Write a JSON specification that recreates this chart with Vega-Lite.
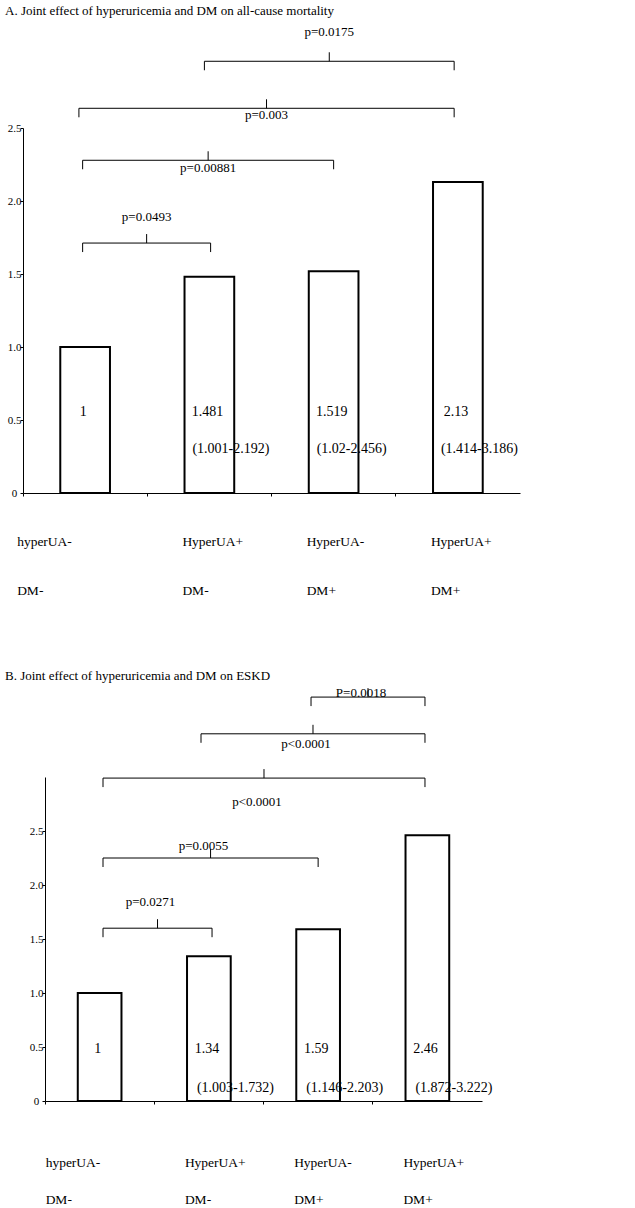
{
  "$schema": "https://vega.github.io/schema/vega-lite/v6.json",
  "background": "white",
  "padding": 5,
  "spacing": 72,
  "config": {
    "font": "Liberation Serif",
    "view": {"stroke": null},
    "axis": {"domainColor": "black", "tickColor": "black", "labelColor": "black", "grid": false, "title": null, "labelFont": "Liberation Serif"},
    "title": {"font": "Liberation Serif", "fontWeight": "normal", "color": "black"}
  },
  "vconcat": [
    {
      "title": {"text": "A. Joint effect of hyperuricemia and DM on all-cause mortality", "anchor": "start", "frame": "group", "dx": -18, "fontSize": 13, "offset": 8},
      "width": 497,
      "height": 365,
      "resolve": {"scale": {"x": "independent"}, "axis": {"x": "independent"}},
      "layer": [
        {
          "data": {"values": [
            {"group": "hyperUA- DM-", "hr": 1, "lo": null, "hi": null},
            {"group": "HyperUA+ DM-", "hr": 1.481, "lo": 1.001, "hi": 2.192},
            {"group": "HyperUA- DM+", "hr": 1.519, "lo": 1.02, "hi": 2.456},
            {"group": "HyperUA+ DM+", "hr": 2.13, "lo": 1.414, "hi": 3.186}
          ]},
          "layer": [
            {
              "mark": {"type": "bar", "width": {"band": 0.4}, "fill": "white", "stroke": null},
              "encoding": {
                "x": {"field": "group", "type": "nominal", "sort": null,
                  "scale": {"paddingInner": 0, "paddingOuter": 0},
                  "axis": {"bandPosition": 0, "tickSize": 3, "labelAngle": 0, "labelAlign": "left", "labelBaseline": "top", "labelPadding": 38, "labelLineHeight": 49, "labelFontSize": 13.5, "labelOverlap": false, "labelExpr": "split(datum.label, ' ')", "labelOffset": {"condition": {"test": "datum.index == 0", "value": -68}, "value": -27}}},
                "y": {"field": "hr", "type": "quantitative",
                  "scale": {"domain": [0, 2.5], "nice": false},
                  "axis": {"values": [0, 0.5, 1, 1.5, 2, 2.5], "labelExpr": "datum.value == 0 ? '0' : format(datum.value, '.1f')", "tickSize": 3, "labelAlign": "center", "labelPadding": 6, "labelFontSize": 11, "labelFlush": false}}
              }
            },
            {
              "mark": {"type": "text", "fontSize": 14, "align": "center", "baseline": "middle", "dx": -2, "color": "black"},
              "encoding": {
                "x": {"field": "group", "type": "nominal", "sort": null},
                "y": {"datum": 0.555},
                "text": {"field": "hr", "type": "quantitative"}
              }
            },
            {
              "transform": [{"filter": "datum.lo != null"}, {"calculate": "'(' + datum.lo + '-' + datum.hi + ')'", "as": "ci"}],
              "mark": {"type": "text", "fontSize": 14, "align": "left", "baseline": "middle", "dx": -17, "color": "black"},
              "encoding": {
                "x": {"field": "group", "type": "nominal", "sort": null},
                "y": {"datum": 0.3},
                "text": {"field": "ci", "type": "nominal"}
              }
            },
            {
              "mark": {"type": "bar", "width": {"band": 0.4}, "fill": null, "stroke": "black", "strokeWidth": 2},
              "encoding": {
                "x": {"field": "group", "type": "nominal", "sort": null},
                "y": {"field": "hr", "type": "quantitative"}
              }
            }
          ]
        },
        {
          "data": {"values": [
            {"p": "p=0.0175", "from": 1.96, "to": 3.97, "lvl": 2.957, "ly": 3.155},
            {"p": "p=0.003", "from": 0.95, "to": 3.97, "lvl": 2.635, "ly": 2.587},
            {"p": "p=0.00881", "from": 0.98, "to": 3.0, "lvl": 2.279, "ly": 2.224},
            {"p": "p=0.0493", "from": 0.98, "to": 2.01, "lvl": 1.712, "ly": 1.89}
          ]},
          "layer": [
            {
              "mark": {"type": "rule", "color": "black", "strokeWidth": 1},
              "encoding": {
                "x": {"field": "from", "type": "quantitative", "scale": {"domain": [0.5, 4.5], "nice": false, "zero": false}, "axis": null},
                "x2": {"field": "to"},
                "y": {"field": "lvl", "type": "quantitative"}
              }
            },
            {
              "transform": [{"fold": ["from", "to"], "as": ["end", "xe"]}],
              "mark": {"type": "rule", "color": "black", "strokeWidth": 1, "y2Offset": 9},
              "encoding": {
                "x": {"field": "xe", "type": "quantitative", "scale": {"domain": [0.5, 4.5], "nice": false, "zero": false}, "axis": null},
                "y": {"field": "lvl", "type": "quantitative"},
                "y2": {"field": "lvl"}
              }
            },
            {
              "transform": [{"fold": ["from", "to"], "as": ["end", "xe"]}, {"aggregate": [{"op": "mean", "field": "xe", "as": "mid"}], "groupby": ["p", "lvl", "ly"]}],
              "mark": {"type": "rule", "color": "black", "strokeWidth": 1, "y2Offset": -9},
              "encoding": {
                "x": {"field": "mid", "type": "quantitative", "scale": {"domain": [0.5, 4.5], "nice": false, "zero": false}, "axis": null},
                "y": {"field": "lvl", "type": "quantitative"},
                "y2": {"field": "lvl"}
              }
            },
            {
              "transform": [{"fold": ["from", "to"], "as": ["end", "xe"]}, {"aggregate": [{"op": "mean", "field": "xe", "as": "mid"}], "groupby": ["p", "lvl", "ly"]}],
              "mark": {"type": "text", "fontSize": 13, "align": "center", "baseline": "middle", "color": "black"},
              "encoding": {
                "x": {"field": "mid", "type": "quantitative", "scale": {"domain": [0.5, 4.5], "nice": false, "zero": false}, "axis": null},
                "y": {"field": "ly", "type": "quantitative"},
                "text": {"field": "p", "type": "nominal"}
              }
            }
          ]
        }
      ]
    },
    {
      "title": {"text": "B. Joint effect of hyperuricemia and DM on ESKD", "anchor": "start", "frame": "group", "dx": -18, "fontSize": 13, "offset": 4},
      "width": 459,
      "height": 324,
      "resolve": {"scale": {"x": "independent"}, "axis": {"x": "independent"}},
      "layer": [
        {
          "data": {"values": [
            {"group": "hyperUA- DM-", "hr": 1, "lo": null, "hi": null},
            {"group": "HyperUA+ DM-", "hr": 1.34, "lo": 1.003, "hi": 1.732},
            {"group": "HyperUA- DM+", "hr": 1.59, "lo": 1.146, "hi": 2.203},
            {"group": "HyperUA+ DM+", "hr": 2.46, "lo": 1.872, "hi": 3.222}
          ]},
          "layer": [
            {
              "mark": {"type": "bar", "width": {"band": 0.4}, "fill": "white", "stroke": null},
              "encoding": {
                "x": {"field": "group", "type": "nominal", "sort": null,
                  "scale": {"paddingInner": 0, "paddingOuter": 0, "range": [22, 459]},
                  "axis": {"bandPosition": 0, "tickSize": 3, "labelAngle": 0, "labelAlign": "left", "labelBaseline": "top", "labelPadding": 51, "labelLineHeight": 37, "labelFontSize": 13.5, "labelOverlap": false, "labelExpr": "split(datum.label, ' ')", "labelOffset": {"condition": {"test": "datum.index == 0", "value": -54}, "value": -24}}},
                "y": {"field": "hr", "type": "quantitative",
                  "scale": {"domain": [0, 3], "nice": false},
                  "axis": {"values": [0, 0.5, 1, 1.5, 2, 2.5], "offset": -22, "labelExpr": "datum.value == 0 ? '0' : format(datum.value, '.1f')", "tickSize": 3, "labelAlign": "center", "labelPadding": 6, "labelFontSize": 11, "labelFlush": false}}
              }
            },
            {
              "mark": {"type": "text", "fontSize": 14, "align": "center", "baseline": "middle", "dx": -2, "color": "black"},
              "encoding": {
                "x": {"field": "group", "type": "nominal", "sort": null},
                "y": {"datum": 0.48},
                "text": {"field": "hr", "type": "quantitative"}
              }
            },
            {
              "transform": [{"filter": "datum.lo != null"}, {"calculate": "'(' + datum.lo + '-' + datum.hi + ')'", "as": "ci"}],
              "mark": {"type": "text", "fontSize": 14, "align": "left", "baseline": "middle", "dx": -12, "color": "black"},
              "encoding": {
                "x": {"field": "group", "type": "nominal", "sort": null},
                "y": {"datum": 0.12},
                "text": {"field": "ci", "type": "nominal"}
              }
            },
            {
              "mark": {"type": "bar", "width": {"band": 0.4}, "fill": null, "stroke": "black", "strokeWidth": 2},
              "encoding": {
                "x": {"field": "group", "type": "nominal", "sort": null},
                "y": {"field": "hr", "type": "quantitative"}
              }
            }
          ]
        },
        {
          "data": {"values": [
            {"p": "P=0.0018", "from": 2.935, "to": 3.978, "lvl": 3.74, "ly": 3.78},
            {"p": "p<0.0001", "from": 1.928, "to": 3.978, "lvl": 3.4, "ly": 3.31},
            {"p": "p<0.0001", "from": 1.031, "to": 3.978, "lvl": 2.99, "ly": 2.77},
            {"p": "p=0.0055", "from": 1.031, "to": 3.0, "lvl": 2.25, "ly": 2.36},
            {"p": "p=0.0271", "from": 1.031, "to": 2.029, "lvl": 1.6, "ly": 1.84}
          ]},
          "layer": [
            {
              "mark": {"type": "rule", "color": "black", "strokeWidth": 1},
              "encoding": {
                "x": {"field": "from", "type": "quantitative", "scale": {"domain": [0.5, 4.5], "range": [22, 459], "nice": false, "zero": false}, "axis": null},
                "x2": {"field": "to"},
                "y": {"field": "lvl", "type": "quantitative"}
              }
            },
            {
              "transform": [{"fold": ["from", "to"], "as": ["end", "xe"]}],
              "mark": {"type": "rule", "color": "black", "strokeWidth": 1, "y2Offset": 9},
              "encoding": {
                "x": {"field": "xe", "type": "quantitative", "scale": {"domain": [0.5, 4.5], "range": [22, 459], "nice": false, "zero": false}, "axis": null},
                "y": {"field": "lvl", "type": "quantitative"},
                "y2": {"field": "lvl"}
              }
            },
            {
              "transform": [{"fold": ["from", "to"], "as": ["end", "xe"]}, {"aggregate": [{"op": "mean", "field": "xe", "as": "mid"}], "groupby": ["p", "lvl", "ly"]}],
              "mark": {"type": "rule", "color": "black", "strokeWidth": 1, "y2Offset": -9},
              "encoding": {
                "x": {"field": "mid", "type": "quantitative", "scale": {"domain": [0.5, 4.5], "range": [22, 459], "nice": false, "zero": false}, "axis": null},
                "y": {"field": "lvl", "type": "quantitative"},
                "y2": {"field": "lvl"}
              }
            },
            {
              "transform": [{"fold": ["from", "to"], "as": ["end", "xe"]}, {"aggregate": [{"op": "mean", "field": "xe", "as": "mid"}], "groupby": ["p", "lvl", "ly"]}],
              "mark": {"type": "text", "fontSize": 13, "align": "center", "baseline": "middle", "dx": -7, "color": "black"},
              "encoding": {
                "x": {"field": "mid", "type": "quantitative", "scale": {"domain": [0.5, 4.5], "range": [22, 459], "nice": false, "zero": false}, "axis": null},
                "y": {"field": "ly", "type": "quantitative"},
                "text": {"field": "p", "type": "nominal"}
              }
            }
          ]
        }
      ]
    }
  ]
}
